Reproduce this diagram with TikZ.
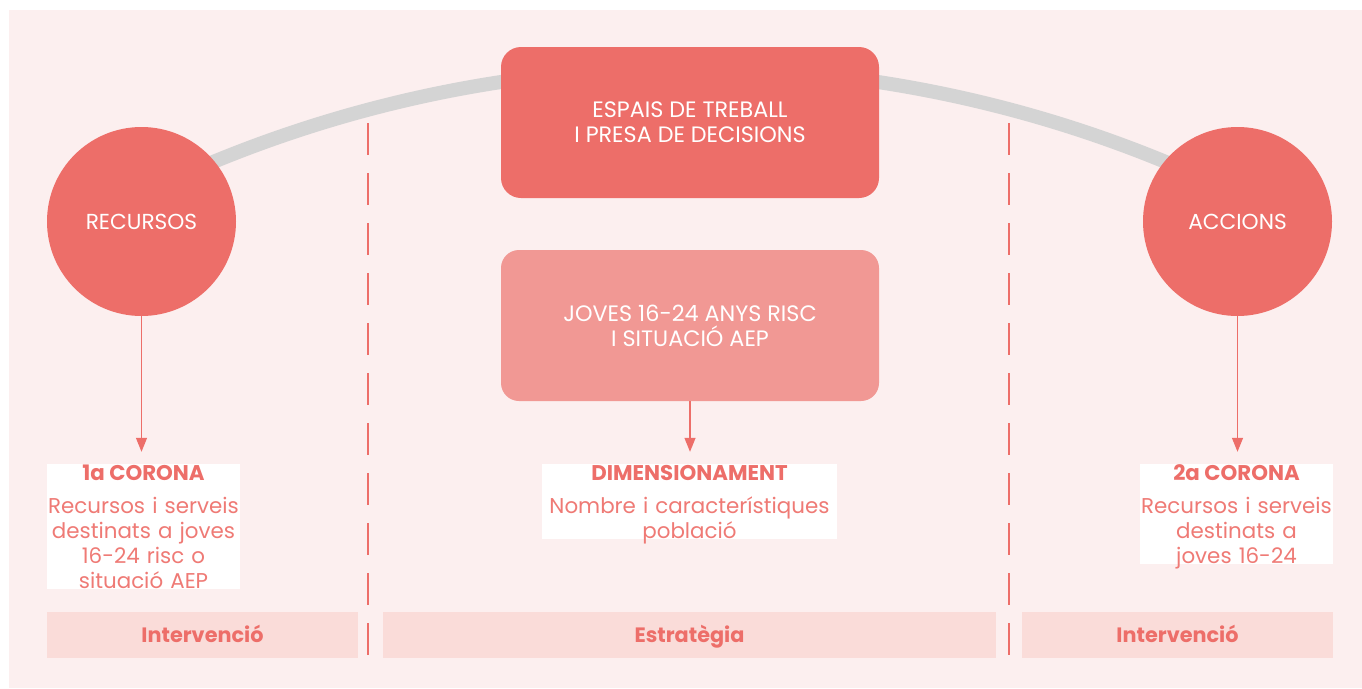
\documentclass[tikz,border=0pt]{standalone}
\usepackage{fontspec}
\setmainfont{Poppins}
\usetikzlibrary{arrows.meta,calc}
\definecolor{bgc}{HTML}{FCEFEF}
\definecolor{salmon}{HTML}{ED6E69}
\definecolor{midc}{HTML}{F19894}
\definecolor{barc}{HTML}{FADCD9}
\definecolor{greyc}{HTML}{D4D4D4}
\definecolor{bodyc}{HTML}{EF7A75}
\pgfdeclarelayer{back}
\pgfsetlayers{back,main}
\tikzset{
  circ/.style={circle, fill=salmon, minimum size=189pt, inner sep=0pt, text=white, font=\fontsize{21.7}{25}\selectfont},
  bigbox/.style={rectangle, rounded corners=20pt, minimum width=378pt, minimum height=151pt, inner sep=0pt, text=white, align=center, font=\fontsize{22.3}{25}\selectfont},
  wbox/.style={rectangle, fill=white, inner sep=0pt},
  head/.style={anchor=base, inner sep=0pt, text=salmon, font=\fontsize{21.3}{25}\selectfont\bfseries},
  body/.style={anchor=base, inner sep=0pt, text=bodyc, text width=320pt, align=center, font=\fontsize{21.4}{25}\selectfont},
  bar/.style={rectangle, fill=barc, minimum height=46pt, inner sep=0pt, text height=18pt, text depth=4pt, text=salmon, font=\fontsize{20.8}{25}\selectfont\bfseries},
  arr/.style={draw=salmon, line width=1.3pt, -{Triangle[width=11pt,length=14pt]}, shorten >=12pt},
  dline/.style={draw=salmon, line width=1.2pt, dash pattern=on 32pt off 18pt},
  arcline/.style={draw=greyc, line width=14pt}
}
\begin{document}
\begin{tikzpicture}[x=1pt,y=-1pt]
\useasboundingbox (0,0) rectangle (1362,688);
% circles and boxes
\node[circ] (rec) at (141.5,221.5) {RECURSOS};
\node[circ] (acc) at (1237.5,221.5) {ACCIONS};
\node[bigbox, fill=salmon] (esp) at (690,122.5) {ESPAIS DE TREBALL\\I PRESA DE DECISIONS};
\node[bigbox, fill=midc, rounded corners=18pt] (jov) at (690,325.5) {JOVES 16-24 ANYS RISC\\I SITUACIÓ AEP};
% background and arc
\begin{pgfonlayer}{back}
\fill[bgc] (9,10) rectangle (1362,688);
\draw[arcline] ($(rec.center)+(0,-27.3)$) arc[start angle=-116, end angle=-64, radius=1250];
\end{pgfonlayer}
% dashed separators
\coordinate (d1t) at (368,123);
\coordinate (d1b) at (368,658);
\coordinate (d2t) at (1009,123);
\coordinate (d2b) at (1009,658);
\draw[dline] (d1t) -- (d1b);
\draw[dline] (d2t) -- (d2b);
% white boxes
\node[wbox, minimum width=193pt, minimum height=125pt] (c1) at (143.5,526.5) {};
\node[wbox, minimum width=295pt, minimum height=75pt] (c2) at (689.5,501.5) {};
\node[wbox, minimum width=193pt, minimum height=100pt] (c3) at (1236.5,514) {};
% arrows
\draw[arr] (rec.south) -- (rec.south |- c1.north);
\draw[arr] (jov.south) -- (jov.south |- c2.north);
\draw[arr] (acc.south) -- (acc.south |- c3.north);
% texts
\node[head] (h1) at (143.5,480) {1a CORONA};
\node[body] (t1) at (143.5,513) {Recursos i serveis\\destinats a joves\\16-24 risc o\\situació AEP};
\node[head] (h2) at (689.5,480) {DIMENSIONAMENT};
\node[body] (t2) at (689.5,513) {Nombre i característiques\\població};
\node[head] (h3) at (1236.5,480) {2a CORONA};
\node[body] (t3) at (1236.5,513) {Recursos i serveis\\destinats a\\joves 16-24};
% bottom bars
\node[bar, minimum width=311pt] (b1) at (202.5,635) {Intervenció};
\node[bar, minimum width=613pt] (b2) at (689.5,635) {Estratègia};
\node[bar, minimum width=311pt] (b3) at (1177.5,635) {Intervenció};
\end{tikzpicture}
\end{document}
